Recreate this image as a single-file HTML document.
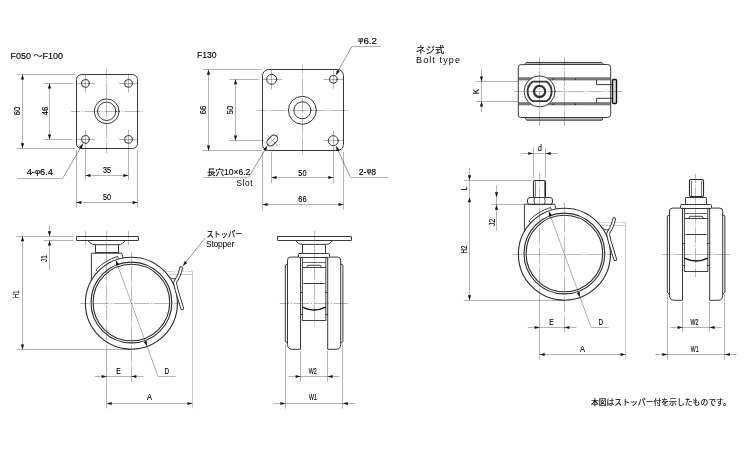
<!DOCTYPE html>
<html lang="ja"><head><meta charset="utf-8"><title>Caster drawing</title>
<style>
html,body{margin:0;padding:0;background:#fff;}
svg{display:block;filter:grayscale(1);}
text{font-family:"Liberation Sans","Noto Sans CJK JP",sans-serif;fill:#000;stroke:#000;stroke-width:0.14;}
.tn{stroke:none;}
.k{fill:none;stroke:#383838;stroke-width:1.0;stroke-linecap:round;stroke-linejoin:round;}
.k2{fill:none;stroke:#383838;stroke-width:0.95;stroke-linecap:round;stroke-linejoin:round;}
.kb{fill:none;stroke:#111;stroke-width:1.35;stroke-linejoin:round;}
.kb2{fill:none;stroke:#2a2a2a;stroke-width:1.15;stroke-linejoin:round;}
.kc{fill:none;stroke:#2e2e2e;stroke-width:1.12;}
.kbnd{fill:#fff;stroke:#333;stroke-width:0.75;stroke-linejoin:round;}
.kr{fill:none;stroke:#333;stroke-width:2.3;}
.kn{fill:none;stroke:#333;stroke-width:1.8;stroke-linejoin:round;}
.g{fill:none;stroke:#555;stroke-width:0.8;}
.g2{fill:none;stroke:#555;stroke-width:0.9;}
.n{fill:none;stroke:#000;stroke-width:0.3;}
.c{fill:none;stroke:#000;stroke-width:0.28;stroke-dasharray:15.5 1.5 1.5 1.5;stroke-dashoffset:6;}
.c2{fill:none;stroke:#000;stroke-width:0.28;stroke-dasharray:5 1.2 1.4 1.2;}
.p{fill:none;stroke:#000;stroke-width:0.2;stroke-dasharray:7 1.2 1.4 1.2;}
.q{fill:none;stroke:#000;stroke-width:0.2;}
.d{fill:none;stroke:#000;stroke-width:0.42;}
.dn{fill:none;stroke:#000;stroke-width:0.32;}
.a{fill:#111;stroke:none;}
.tubeo{fill:none;stroke:#303030;stroke-width:3.7;stroke-linecap:round;stroke-linejoin:round;}
.tubei{fill:none;stroke:#fff;stroke-width:1.9;stroke-linecap:round;stroke-linejoin:round;}
</style></head><body>
<svg width="750" height="450" viewBox="0 0 750 450">
<rect width="750" height="450" fill="#fff"/>
<text class="t" font-size="9.4" x="10.5" y="58.7" textLength="52.5" lengthAdjust="spacingAndGlyphs">F050 ～F100</text>
<rect class="k" x="76.5" y="74.5" width="61" height="74" rx="5"/>
<circle class="k" cx="85.4" cy="83.4" r="3.9"/>
<circle class="k" cx="128.4" cy="83.4" r="3.9"/>
<circle class="k" cx="85.4" cy="139.4" r="3.9"/>
<circle class="k" cx="128.4" cy="139.4" r="3.9"/>
<circle class="k" cx="106.7" cy="111.3" r="12.4"/>
<circle class="k" cx="106.7" cy="111.3" r="9.2"/>
<line class="c" x1="106.5" y1="69" x2="106.5" y2="153.5"/>
<line class="c" x1="70.7" y1="111.5" x2="142.7" y2="111.5"/>
<line class="n" x1="76.5" y1="83.5" x2="94.7" y2="83.5"/>
<line class="n" x1="85.5" y1="74.6" x2="85.5" y2="92.7"/>
<line class="n" x1="118.7" y1="83.5" x2="137.4" y2="83.5"/>
<line class="n" x1="128.5" y1="74.6" x2="128.5" y2="92.7"/>
<line class="n" x1="76.5" y1="139.5" x2="94.7" y2="139.5"/>
<line class="n" x1="118.7" y1="139.5" x2="137.4" y2="139.5"/>
<line class="n" x1="85.5" y1="130" x2="85.5" y2="180.4"/>
<line class="n" x1="128.5" y1="130" x2="128.5" y2="180.4"/>
<line class="n" x1="17" y1="74.5" x2="75.5" y2="74.5"/>
<line class="n" x1="17" y1="148.5" x2="75.5" y2="148.5"/>
<line class="n" x1="22.5" y1="74.4" x2="22.5" y2="148.3"/>
<polygon class="a" points="22.5,74.4 24.1,79.4 20.9,79.4"/>
<polygon class="a" points="22.5,148.3 20.9,143.3 24.1,143.3"/>
<text class="t" font-size="8.4" transform="translate(20.3,111) rotate(-90)" x="-4.15" y="0" textLength="8.3" lengthAdjust="spacingAndGlyphs">60</text>
<line class="n" x1="43.3" y1="83.5" x2="73" y2="83.5"/>
<line class="n" x1="43.3" y1="139.5" x2="73" y2="139.5"/>
<line class="n" x1="49.5" y1="83.4" x2="49.5" y2="139.4"/>
<polygon class="a" points="49.5,83.4 51.1,88.4 47.9,88.4"/>
<polygon class="a" points="49.5,139.4 47.9,134.4 51.1,134.4"/>
<text class="t" font-size="8.4" transform="translate(47.5,111) rotate(-90)" x="-4.15" y="0" textLength="8.3" lengthAdjust="spacingAndGlyphs">46</text>
<line class="n" x1="85.4" y1="175.5" x2="128.4" y2="175.5"/>
<polygon class="a" points="85.4,175.5 90.4,173.9 90.4,177.1"/>
<polygon class="a" points="128.4,175.5 123.4,177.1 123.4,173.9"/>
<text class="t" font-size="8.4" x="102.95" y="173" textLength="8.1" lengthAdjust="spacingAndGlyphs">35</text>
<line class="n" x1="76.5" y1="150" x2="76.5" y2="207.5"/>
<line class="n" x1="137.5" y1="150" x2="137.5" y2="207.5"/>
<line class="n" x1="76.3" y1="202.5" x2="137.6" y2="202.5"/>
<polygon class="a" points="76.3,202.5 81.3,200.9 81.3,204.1"/>
<polygon class="a" points="137.6,202.5 132.6,204.1 132.6,200.9"/>
<text class="t" font-size="8.4" x="102.95" y="199.6" textLength="8.1" lengthAdjust="spacingAndGlyphs">50</text>
<line class="n" x1="17.3" y1="178.5" x2="62.7" y2="178.5"/>
<line class="d" x1="62.7" y1="178.3" x2="83" y2="143.6"/>
<polygon class="a" points="83,143.6 81.86,148.72 79.09,147.11"/>
<text class="t" font-size="8.4" x="26.7" y="174.7" textLength="26.2" lengthAdjust="spacingAndGlyphs">4-<tspan font-size="7.2" dy="-1.1">φ</tspan><tspan dy="1.1">6.4</tspan></text>
<text class="t" font-size="9.2" x="196.9" y="57.7" textLength="19.8" lengthAdjust="spacingAndGlyphs">F130</text>
<rect class="k" x="262.5" y="69.5" width="81" height="81" rx="6"/>
<circle class="k" cx="302.4" cy="110.3" r="14"/>
<circle class="k" cx="302.4" cy="110.3" r="8.5"/>
<circle class="k" cx="271.7" cy="79.3" r="5"/>
<circle class="k" cx="333.3" cy="79.3" r="3.9"/>
<circle class="k" cx="333.3" cy="140.7" r="5"/>
<g transform="translate(272.3,140.5) rotate(-45)"><rect class="k" x="-6.1" y="-3.7" width="12.2" height="7.4" rx="3.7"/><line class="n" x1="-9" y1="0" x2="9" y2="0"/><line class="n" x1="0" y1="-8" x2="0" y2="8"/></g>
<line class="c" x1="302.5" y1="64" x2="302.5" y2="155.7"/>
<line class="c" x1="256.4" y1="110.5" x2="348.7" y2="110.5"/>
<line class="n" x1="262.6" y1="79.5" x2="282" y2="79.5"/>
<line class="n" x1="271.5" y1="70" x2="271.5" y2="89.5"/>
<line class="n" x1="323.5" y1="79.5" x2="343.2" y2="79.5"/>
<line class="n" x1="333.5" y1="70" x2="333.5" y2="89"/>
<line class="n" x1="323" y1="140.5" x2="343.2" y2="140.5"/>
<line class="n" x1="333.5" y1="130.5" x2="333.5" y2="183.3"/>
<line class="n" x1="271.5" y1="152" x2="271.5" y2="183"/>
<line class="n" x1="203" y1="69.5" x2="261.8" y2="69.5"/>
<line class="n" x1="203" y1="150.5" x2="261.8" y2="150.5"/>
<line class="n" x1="208.5" y1="69.7" x2="208.5" y2="150.4"/>
<polygon class="a" points="208.5,69.7 210.1,74.7 206.9,74.7"/>
<polygon class="a" points="208.5,150.4 206.9,145.4 210.1,145.4"/>
<text class="t" font-size="8.4" transform="translate(206.3,110) rotate(-90)" x="-4.25" y="0" textLength="8.5" lengthAdjust="spacingAndGlyphs">66</text>
<line class="n" x1="229.6" y1="79.5" x2="258.7" y2="79.5"/>
<line class="n" x1="229.6" y1="140.5" x2="264" y2="140.5"/>
<line class="n" x1="235.5" y1="79.3" x2="235.5" y2="140.5"/>
<polygon class="a" points="235.5,79.3 237.1,84.3 233.9,84.3"/>
<polygon class="a" points="235.5,140.5 233.9,135.5 237.1,135.5"/>
<text class="t" font-size="8.4" transform="translate(233,110) rotate(-90)" x="-4.15" y="0" textLength="8.3" lengthAdjust="spacingAndGlyphs">50</text>
<line class="n" x1="271.5" y1="177.5" x2="333.3" y2="177.5"/>
<polygon class="a" points="271.5,177.5 276.5,175.9 276.5,179.1"/>
<polygon class="a" points="333.3,177.5 328.3,179.1 328.3,175.9"/>
<text class="t" font-size="8.4" x="298.35" y="175.7" textLength="8.1" lengthAdjust="spacingAndGlyphs">50</text>
<line class="n" x1="262.5" y1="152" x2="262.5" y2="209.7"/>
<line class="n" x1="343.5" y1="152" x2="343.5" y2="209.7"/>
<line class="n" x1="262.5" y1="204.5" x2="343.5" y2="204.5"/>
<polygon class="a" points="262.5,204.5 267.5,202.9 267.5,206.1"/>
<polygon class="a" points="343.5,204.5 338.5,206.1 338.5,202.9"/>
<text class="t" font-size="8.4" x="298.25" y="201.7" textLength="8.3" lengthAdjust="spacingAndGlyphs">66</text>
<line class="d" x1="335.9" y1="75.1" x2="352" y2="46.3"/>
<line class="n" x1="352" y1="46.5" x2="381" y2="46.5"/>
<polygon class="a" points="335.9,75.1 336.94,69.95 339.74,71.52"/>
<text class="t" font-size="8.4" x="358" y="43.5" textLength="19" lengthAdjust="spacingAndGlyphs"><tspan font-size="7.2" dy="-1.1">φ</tspan><tspan dy="1.1">6.2</tspan></text>
<line class="d" x1="336.1" y1="146.1" x2="350.5" y2="177.3"/>
<line class="n" x1="350.5" y1="177.5" x2="388.5" y2="177.5"/>
<polygon class="a" points="336.1,146.1 339.65,149.97 336.74,151.31"/>
<text class="t" font-size="8.4" x="358.8" y="174.5" textLength="17.2" lengthAdjust="spacingAndGlyphs">2-<tspan font-size="7.2" dy="-1.1">φ</tspan><tspan dy="1.1">8</tspan></text>
<line class="n" x1="203" y1="177.5" x2="248.7" y2="177.5"/>
<line class="d" x1="248.7" y1="177.3" x2="267.2" y2="146"/>
<polygon class="a" points="267.2,146 266.03,151.12 263.28,149.49"/>
<text class="t" font-size="8.2" x="207" y="175.3" textLength="43.3" lengthAdjust="spacingAndGlyphs">長穴10×6.2</text>
<text class="tn" font-size="8.4" x="236.4" y="185.8" textLength="16.2" lengthAdjust="spacing">Slot</text>
<g transform="translate(0,0)">
<line class="c" x1="106.5" y1="231" x2="106.5" y2="349.5"/>
<line class="n" x1="106.5" y1="349.5" x2="106.5" y2="408.4"/>
<line class="c" x1="131.5" y1="251.7" x2="131.5" y2="381.8"/>
<line class="c" x1="80" y1="303.5" x2="183" y2="303.5"/>
<line class="p" x1="166" y1="271.5" x2="192.5" y2="271.5"/>
<line class="q" x1="169" y1="274.5" x2="192.5" y2="274.5"/>
<line class="q" x1="192.5" y1="271.5" x2="192.5" y2="408.4"/>
<circle class="kc" cx="131.4" cy="303.2" r="46"/>
<circle class="kc" cx="131.4" cy="302.5" r="40.4"/>
<circle class="kc" cx="131.4" cy="302.5" r="38.3"/>
<path class="k2" d="M118.33,258.78 L117.65,256.48 A48.7,48.7 0 0 0 95.9,269.86 L97.65,271.51"/>
<path class="k" d="M91.4,280.6 L91.4,253.2 L121.6,253.2 L123.1,257.7"/>
<line class="dn" x1="115.85" y1="260.34" x2="158" y2="376.4"/>
<line class="n" x1="158" y1="376.5" x2="175.6" y2="376.5"/>
<polygon class="a" points="115.85,260.34 119.06,264.49 116.05,265.58"/>
<polygon class="a" points="146.95,346.06 143.74,341.91 146.75,340.82"/>
<path class="k2" d="M168.3,276 Q171.6,280.3 176,278.4"/>
<path class="tubeo" d="M181.1,268.1 C180.3,271.5 179.6,274 178.4,276.5 C177.2,279 175.3,281 175,283 L176.65,290 L182.2,308.3"/>
<path class="tubei" d="M181.1,268.1 C180.3,271.5 179.6,274 178.4,276.5 C177.2,279 175.3,281 175,283 L176.65,290 L182.2,308.3"/>
<line class="n" x1="17" y1="349.5" x2="131" y2="349.5"/>
<line class="n" x1="94.7" y1="376.5" x2="143.4" y2="376.5"/>
<polygon class="a" points="106.7,376.5 101.7,378.1 101.7,374.9"/>
<polygon class="a" points="131.4,376.5 136.4,374.9 136.4,378.1"/>
<line class="n" x1="106.7" y1="403.5" x2="192.5" y2="403.5"/>
<polygon class="a" points="106.7,403.5 111.7,401.9 111.7,405.1"/>
<polygon class="a" points="192.5,403.5 187.5,405.1 187.5,401.9"/>
</g>
<rect class="k" x="76.5" y="236.5" width="62" height="4" rx="0.3"/>
<path class="k" d="M88,240.5 Q90.5,244.7 95.4,244.7 L118.2,244.7 Q123,244.7 125.3,240.5"/>
<line class="k" x1="95.5" y1="244.7" x2="95.5" y2="253"/>
<line class="k" x1="118.5" y1="244.7" x2="118.5" y2="253"/>
<line class="k" x1="95.4" y1="252.5" x2="118.2" y2="252.5"/>
<line class="c2" x1="85.5" y1="231" x2="85.5" y2="246.3"/>
<line class="c2" x1="128.5" y1="231" x2="128.5" y2="246.3"/>
<line class="n" x1="16.7" y1="236.5" x2="73.3" y2="236.5"/>
<line class="n" x1="22.5" y1="236.3" x2="22.5" y2="349.4"/>
<polygon class="a" points="22.5,236.3 24.1,241.3 20.9,241.3"/>
<polygon class="a" points="22.5,349.4 20.9,344.4 24.1,344.4"/>
<text class="t" font-size="8.4" transform="translate(19.3,294.2) rotate(-90)" x="-3.8" y="0" textLength="7.6" lengthAdjust="spacingAndGlyphs">H1</text>
<line class="n" x1="43.7" y1="240.5" x2="73.3" y2="240.5"/>
<line class="n" x1="49.5" y1="225" x2="49.5" y2="236.3"/>
<polygon class="a" points="49.5,236.3 47.9,231.3 51.1,231.3"/>
<line class="n" x1="49.5" y1="240.4" x2="49.5" y2="270"/>
<polygon class="a" points="49.5,240.4 51.1,245.4 47.9,245.4"/>
<text class="t" font-size="8.4" transform="translate(46.9,258.5) rotate(-90)" x="-3.5" y="0" textLength="7" lengthAdjust="spacingAndGlyphs">J1</text>
<line class="d" x1="182.9" y1="265.9" x2="205" y2="238"/>
<polygon class="a" points="182.9,265.9 184.75,260.99 187.26,262.97"/>
<text class="t" font-size="8" x="206.4" y="237" textLength="36" lengthAdjust="spacingAndGlyphs">ストッパー</text>
<text class="tn" font-size="8.4" x="206" y="246.6" textLength="28.4" lengthAdjust="spacing">Stopper</text>
<text class="t" font-size="8.4" x="116.35" y="373.6" textLength="4.5" lengthAdjust="spacingAndGlyphs">E</text>
<text class="t" font-size="8.4" x="164.4" y="373.6" textLength="4.6" lengthAdjust="spacingAndGlyphs">D</text>
<text class="t" font-size="8.4" x="147.1" y="400.4" textLength="5" lengthAdjust="spacingAndGlyphs">A</text>
<g transform="translate(433,-49)">
<line class="c" x1="106.5" y1="222.8" x2="106.5" y2="349.5"/>
<line class="n" x1="106.5" y1="349.5" x2="106.5" y2="408.4"/>
<line class="c" x1="131.5" y1="251.7" x2="131.5" y2="381.8"/>
<line class="c" x1="80" y1="303.5" x2="183" y2="303.5"/>
<line class="p" x1="166" y1="271.5" x2="192.5" y2="271.5"/>
<line class="q" x1="169" y1="274.5" x2="192.5" y2="274.5"/>
<line class="q" x1="192.5" y1="271.5" x2="192.5" y2="408.4"/>
<circle class="kc" cx="131.4" cy="303.2" r="46"/>
<circle class="kc" cx="131.4" cy="302.5" r="40.4"/>
<circle class="kc" cx="131.4" cy="302.5" r="38.3"/>
<path class="k2" d="M118.33,258.78 L117.65,256.48 A48.7,48.7 0 0 0 95.9,269.86 L97.65,271.51"/>
<path class="k" d="M91.4,280.6 L91.4,253.2 L121.6,253.2 L123.1,257.7"/>
<line class="dn" x1="115.85" y1="260.34" x2="158" y2="376.4"/>
<line class="n" x1="158" y1="376.5" x2="175.6" y2="376.5"/>
<polygon class="a" points="115.85,260.34 119.06,264.49 116.05,265.58"/>
<polygon class="a" points="146.95,346.06 143.74,341.91 146.75,340.82"/>
<path class="k2" d="M168.3,276 Q171.6,280.3 176,278.4"/>
<path class="tubeo" d="M181.1,268.1 C180.3,271.5 179.6,274 178.4,276.5 C177.2,279 175.3,281 175,283 L176.65,290 L182.2,308.3"/>
<path class="tubei" d="M181.1,268.1 C180.3,271.5 179.6,274 178.4,276.5 C177.2,279 175.3,281 175,283 L176.65,290 L182.2,308.3"/>
<line class="n" x1="30.8" y1="349.5" x2="131" y2="349.5"/>
<line class="n" x1="94.7" y1="376.5" x2="143.4" y2="376.5"/>
<polygon class="a" points="106.7,376.5 101.7,378.1 101.7,374.9"/>
<polygon class="a" points="131.4,376.5 136.4,374.9 136.4,378.1"/>
<line class="n" x1="106.7" y1="403.5" x2="192.5" y2="403.5"/>
<polygon class="a" points="106.7,403.5 111.7,401.9 111.7,405.1"/>
<polygon class="a" points="192.5,403.5 187.5,405.1 187.5,401.9"/>
</g>
<text class="t" font-size="8.4" x="549.15" y="324.8" textLength="4.5" lengthAdjust="spacingAndGlyphs">E</text>
<text class="t" font-size="8.4" x="598.4" y="324.8" textLength="4.6" lengthAdjust="spacingAndGlyphs">D</text>
<text class="t" font-size="8.4" x="580.1" y="352" textLength="5" lengthAdjust="spacingAndGlyphs">A</text>
<rect class="kb2" x="533.5" y="180.5" width="12" height="17" rx="1.2"/>
<line class="g" x1="535.5" y1="181.5" x2="535.5" y2="196.5"/>
<line class="g" x1="544.5" y1="181.5" x2="544.5" y2="196.5"/>
<rect class="k" x="527.5" y="197.5" width="25" height="7" rx="2.5"/>
<path class="k2" d="M534.6,197.3 Q533.4,200.8 534.6,204.2"/>
<path class="k2" d="M544.6,197.3 Q545.8,200.8 544.6,204.2"/>
<line class="n" x1="533.5" y1="147.3" x2="533.5" y2="178"/>
<line class="n" x1="545.5" y1="147.3" x2="545.5" y2="178"/>
<line class="n" x1="521.3" y1="153.5" x2="557.7" y2="153.5"/>
<polygon class="a" points="533.3,153.5 528.3,155.1 528.3,151.9"/>
<polygon class="a" points="545.7,153.5 550.7,151.9 550.7,155.1"/>
<text class="t" font-size="8.4" x="538.1" y="150.7" textLength="3.8" lengthAdjust="spacingAndGlyphs">d</text>
<line class="n" x1="464" y1="180.5" x2="531.3" y2="180.5"/>
<line class="n" x1="469.5" y1="168" x2="469.5" y2="300.3"/>
<polygon class="a" points="469.5,180.3 467.9,175.3 471.1,175.3"/>
<polygon class="a" points="469.5,197.3 471.1,202.3 467.9,202.3"/>
<polygon class="a" points="469.5,300.3 467.9,295.3 471.1,295.3"/>
<text class="t" font-size="8.4" transform="translate(467.3,188.5) rotate(-90)" x="-1.85" y="0" textLength="3.7" lengthAdjust="spacingAndGlyphs">L</text>
<text class="t" font-size="8.4" transform="translate(467.4,249.6) rotate(-90)" x="-4" y="0" textLength="8" lengthAdjust="spacingAndGlyphs">H2</text>
<line class="n" x1="490.7" y1="204.5" x2="524" y2="204.5"/>
<line class="n" x1="496.5" y1="185.3" x2="496.5" y2="230.7"/>
<polygon class="a" points="496.5,197.3 494.9,192.3 498.1,192.3"/>
<polygon class="a" points="496.5,204.7 498.1,209.7 494.9,209.7"/>
<text class="t" font-size="8.4" transform="translate(494.5,222.5) rotate(-90)" x="-3.85" y="0" textLength="7.7" lengthAdjust="spacingAndGlyphs">J2</text>
<g transform="translate(0,0)">
<line class="c" x1="314.5" y1="230.6" x2="314.5" y2="326"/>
<line class="c" x1="279.7" y1="303.5" x2="348.3" y2="303.5"/>
<rect class="k" x="298.5" y="253.5" width="31" height="4" rx="1"/>
<path class="k" d="M298.4,257.1 L290.5,257.1 Q287.5,257.1 287.5,260.2 L287.5,344.5 Q287.5,349.3 292.3,349.3 L300.5,349.3 L300.5,257.2"/>
<path class="k" d="M287.5,264 L285.3,265.1 L285.3,341.6 L287.5,343"/>
<path class="k2" d="M302.4,257.2 L302.4,320"/>
<line class="k2" x1="300.5" y1="292.5" x2="302.4" y2="292.5"/>
<line class="k2" x1="300.5" y1="314.5" x2="302.4" y2="314.5"/>
<line class="n" x1="285.5" y1="343.5" x2="285.5" y2="408.7"/>
<line class="n" x1="300.5" y1="351" x2="300.5" y2="381.3"/>
<path class="k" d="M329.8,257.1 L337.7,257.1 Q340.7,257.1 340.7,260.2 L340.7,344.5 Q340.7,349.3 335.9,349.3 L327.7,349.3 L327.7,257.2"/>
<path class="k" d="M340.7,264 L342.9,265.1 L342.9,341.6 L340.7,343"/>
<path class="k2" d="M325.8,257.2 L325.8,320"/>
<line class="k2" x1="327.7" y1="292.5" x2="325.8" y2="292.5"/>
<line class="k2" x1="327.7" y1="314.5" x2="325.8" y2="314.5"/>
<line class="n" x1="342.5" y1="343.5" x2="342.5" y2="408.7"/>
<line class="n" x1="327.5" y1="351" x2="327.5" y2="381.3"/>
<line class="k2" x1="302.4" y1="320.5" x2="325.8" y2="320.5"/>
<line class="g2" x1="302.4" y1="262.5" x2="325.8" y2="262.5"/>
<line class="k2" x1="302.4" y1="267.5" x2="325.8" y2="267.5"/>
<path class="k2" d="M306.9,267.2 L307.7,265.3 L320.5,265.3 L321.3,267.2"/>
<line class="k" x1="303.9" y1="283.5" x2="324.2" y2="283.5"/>
<path class="kb" d="M302.4,307.2 Q314.1,312.8 325.8,307.2"/>
<line class="n" x1="288.6" y1="376.5" x2="339.6" y2="376.5"/>
<polygon class="a" points="300.6,376.5 295.6,378.1 295.6,374.9"/>
<polygon class="a" points="327.6,376.5 332.6,374.9 332.6,378.1"/>
<line class="n" x1="273.4" y1="403.5" x2="354.8" y2="403.5"/>
<polygon class="a" points="285.4,403.5 280.4,405.1 280.4,401.9"/>
<polygon class="a" points="342.8,403.5 347.8,401.9 347.8,405.1"/>
</g>
<rect class="k" x="277.5" y="236.5" width="74" height="4" rx="0.3"/>
<path class="k" d="M295.7,240.4 Q298,244.4 302.6,244.4 L325.6,244.4 Q330.3,244.4 332.6,240.4"/>
<line class="k" x1="302.5" y1="244.4" x2="302.5" y2="253"/>
<line class="k" x1="325.5" y1="244.4" x2="325.5" y2="253"/>
<text class="t" font-size="8.4" x="308.7" y="373.6" textLength="8" lengthAdjust="spacingAndGlyphs">W2</text>
<text class="t" font-size="8.4" x="309" y="400" textLength="7.8" lengthAdjust="spacingAndGlyphs">W1</text>
<g transform="translate(382,-49)">
<line class="c" x1="313.5" y1="222.8" x2="313.5" y2="326"/>
<line class="c" x1="279.7" y1="303.5" x2="348.3" y2="303.5"/>
<rect class="k" x="298.5" y="253.5" width="31" height="4" rx="1"/>
<path class="k" d="M298.4,257.1 L290.5,257.1 Q287.5,257.1 287.5,260.2 L287.5,344.5 Q287.5,349.3 292.3,349.3 L300.5,349.3 L300.5,257.2"/>
<path class="k" d="M287.5,264 L285.3,265.1 L285.3,341.6 L287.5,343"/>
<path class="k2" d="M302.4,257.2 L302.4,320"/>
<line class="k2" x1="300.5" y1="292.5" x2="302.4" y2="292.5"/>
<line class="k2" x1="300.5" y1="314.5" x2="302.4" y2="314.5"/>
<line class="n" x1="285.5" y1="343.5" x2="285.5" y2="408.7"/>
<line class="n" x1="300.5" y1="351" x2="300.5" y2="381.3"/>
<path class="k" d="M329.8,257.1 L337.7,257.1 Q340.7,257.1 340.7,260.2 L340.7,344.5 Q340.7,349.3 335.9,349.3 L327.7,349.3 L327.7,257.2"/>
<path class="k" d="M340.7,264 L342.9,265.1 L342.9,341.6 L340.7,343"/>
<path class="k2" d="M325.8,257.2 L325.8,320"/>
<line class="k2" x1="327.7" y1="292.5" x2="325.8" y2="292.5"/>
<line class="k2" x1="327.7" y1="314.5" x2="325.8" y2="314.5"/>
<line class="n" x1="342.5" y1="343.5" x2="342.5" y2="408.7"/>
<line class="n" x1="327.5" y1="351" x2="327.5" y2="381.3"/>
<line class="k2" x1="302.4" y1="320.5" x2="325.8" y2="320.5"/>
<line class="g2" x1="302.4" y1="262.5" x2="325.8" y2="262.5"/>
<line class="k2" x1="302.4" y1="267.5" x2="325.8" y2="267.5"/>
<path class="k2" d="M306.9,267.2 L307.7,265.3 L320.5,265.3 L321.3,267.2"/>
<line class="k" x1="303.9" y1="283.5" x2="324.2" y2="283.5"/>
<path class="kb" d="M302.4,307.2 Q314.1,312.8 325.8,307.2"/>
<line class="n" x1="288.6" y1="376.5" x2="339.6" y2="376.5"/>
<polygon class="a" points="300.6,376.5 295.6,378.1 295.6,374.9"/>
<polygon class="a" points="327.6,376.5 332.6,374.9 332.6,378.1"/>
<line class="n" x1="273.4" y1="403.5" x2="354.8" y2="403.5"/>
<polygon class="a" points="285.4,403.5 280.4,405.1 280.4,401.9"/>
<polygon class="a" points="342.8,403.5 347.8,401.9 347.8,405.1"/>
</g>
<text class="t" font-size="8.4" x="690.5" y="324.7" textLength="8" lengthAdjust="spacingAndGlyphs">W2</text>
<text class="t" font-size="8.4" x="690.8" y="351.7" textLength="7.8" lengthAdjust="spacingAndGlyphs">W1</text>
<rect class="kb2" x="689.5" y="179.5" width="14" height="17" rx="1.2"/>
<line class="g" x1="691.5" y1="180.7" x2="691.5" y2="196.4"/>
<line class="g" x1="701.5" y1="180.7" x2="701.5" y2="196.4"/>
<rect class="k" x="685.5" y="197.5" width="21" height="7" rx="0.6"/>
<text class="t" font-size="9.5" x="416" y="53.3" textLength="28.4" lengthAdjust="spacingAndGlyphs">ネジ式</text>
<text class="tn" font-size="9" x="416" y="63" textLength="44" lengthAdjust="spacing">Bolt type</text>
<rect x="526.5" y="62.4" width="75.5" height="2.3" fill="#b8b8b8"/>
<rect x="526.7" y="117.5" width="75.5" height="2.7" fill="#b8b8b8"/>
<rect x="518.3" y="77.3" width="92.4" height="3.1" fill="#787878"/>
<rect x="518.3" y="102.2" width="92.4" height="3.1" fill="#787878"/>
<path class="k" d="M518.3,67 Q518.3,64.7 520.6,64.7 L524.8,64.7 L526.5,62.4 L602,62.4 L603.6,64.5 L607.6,64.5 Q610.7,64.5 610.7,67.7 L610.7,114.3 Q610.7,117.5 607.5,117.5 L603.2,117.5 L602,120.2 L526.7,120.2 L525,117.5 L520.6,117.5 Q518.3,117.5 518.3,115.3 Z"/>
<line class="k2" x1="524.8" y1="64.5" x2="603.6" y2="64.5"/>
<line class="k2" x1="525" y1="117.5" x2="603.2" y2="117.5"/>
<path class="k" d="M596.6,80.3 L596.6,84.6 L612,84.6"/>
<path class="k" d="M596.6,102.4 L596.6,98.3 L612,98.3"/>
<rect class="kb" x="612.5" y="79.5" width="4" height="24" rx="1" style="fill:#ddd"/>
<circle class="k" cx="539.6" cy="91.4" r="15.5" style="fill:#fff"/>
<path class="kn" d="M532.54,81.7 L546.66,81.7 A12.0,12.0 0 0 1 546.66,101.1 L532.54,101.1 A12.0,12.0 0 0 1 532.54,81.7 Z"/>
<circle class="kr" cx="539.6" cy="91.4" r="5.6"/>
<line class="c" x1="514" y1="91.5" x2="622" y2="91.5"/>
<line class="c" x1="539.5" y1="57" x2="539.5" y2="126"/>
<line class="c" x1="564.5" y1="57" x2="564.5" y2="126"/>
<circle cx="553.2" cy="79" r="0.8" fill="#222"/>
<circle cx="575.4" cy="79" r="0.8" fill="#222"/>
<circle cx="553.2" cy="104.2" r="0.8" fill="#222"/>
<circle cx="575.4" cy="104.2" r="0.8" fill="#222"/>
<line class="n" x1="476" y1="81.5" x2="518" y2="81.5"/>
<line class="n" x1="476" y1="101.5" x2="518" y2="101.5"/>
<line class="n" x1="481.5" y1="69" x2="481.5" y2="112"/>
<polygon class="a" points="481.5,81.4 479.9,76.4 483.1,76.4"/>
<polygon class="a" points="481.5,101.4 483.1,106.4 479.9,106.4"/>
<text class="t" font-size="8.4" transform="translate(478.8,91.5) rotate(-90)" x="-2.5" y="0" textLength="5" lengthAdjust="spacingAndGlyphs">K</text>
<text class="t" font-size="8" x="590.9" y="405.2" textLength="140" lengthAdjust="spacingAndGlyphs">本図はストッパー付を示したものです。</text>
</svg>
</body></html>
